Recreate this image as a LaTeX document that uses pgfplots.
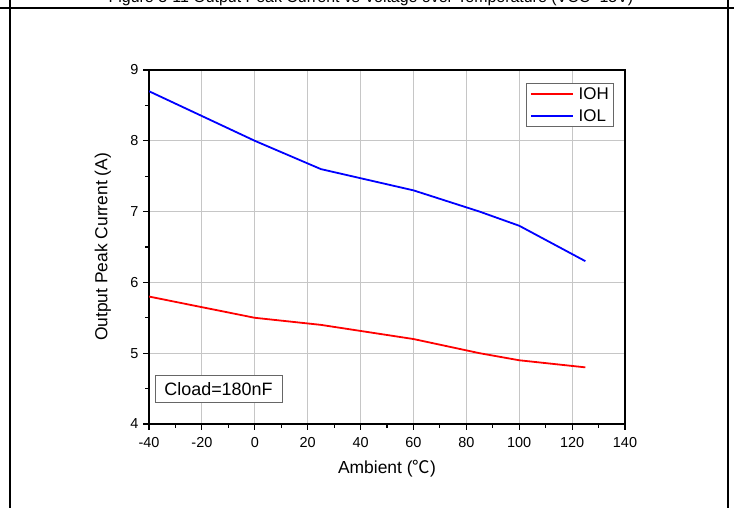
\documentclass[border=0pt]{standalone}
\usepackage{fontspec}
\usepackage{pgfplots}
\pgfplotsset{compat=1.18}
\setmainfont{Liberation Sans}
\newfontfamily\cjk{Noto Sans CJK SC}

% Output peak current vs ambient temperature
\pgfplotstableread{
T    I
-40  5.80
-20  5.65
0    5.50
25   5.40
60   5.20
85   5.00
100  4.90
125  4.80
}\ioh
\pgfplotstableread{
T    I
-40  8.70
0    8.00
25   7.60
60   7.30
85   7.00
100  6.80
125  6.30
}\iol

\begin{document}
\begin{tikzpicture}[x=1bp,y=1bp]
\useasboundingbox (0,0) rectangle (734,508);
% table cell frame around the figure
\draw[line width=2bp] (0,500) -- (734,500);
\draw[line width=2bp] (10,0) -- (10,508);
\draw[line width=2bp] (728,0) -- (728,508);
\node[anchor=base, font=\fontsize{16}{18}\selectfont] at (371,505)
  {Figure 3-11 Output Peak Current vs Voltage over Temperature (VCC=15V)};

\begin{axis}[
  at={(149bp,84bp)}, anchor=south west,
  scale only axis, width=476bp, height=354bp,
  xmin=-40, xmax=140, ymin=4, ymax=9,
  xtick={-40,-20,...,140}, ytick={4,5,...,9},
  minor x tick num=1, minor y tick num=1,
  xtick pos=left, ytick pos=left, tick align=outside,
  major tick length=6bp, minor tick length=4bp,
  every tick/.style={black, line width=1.2bp},
  axis line style={line width=1.8bp},
  grid=major,
  major grid style={gray!45, line width=0.8bp},
  tick label style={font=\fontsize{14.5}{16}\selectfont},
  xticklabel style={yshift=-4bp},
  yticklabel style={xshift=-1bp},
  /pgf/number format/assume math mode=true,
  xlabel={Ambient ({\cjk ℃})},
  ylabel={Output Peak Current (A)},
  label style={font=\fontsize{17.5}{20}\selectfont},
  xlabel style={at={(axis description cs:0.5,-0.125)}, anchor=center},
  ylabel style={at={(axis description cs:-0.097,0.5)}, anchor=center},
  legend style={at={(axis description cs:0.793,0.962)}, anchor=north west,
    draw=gray!80!black, line width=0.8bp,
    font=\fontsize{17}{19}\selectfont,
    inner xsep=3bp, inner ysep=2bp,
    nodes={inner sep=2bp, text depth=0.5bp},
    column sep=3bp, row sep=6bp},
  legend cell align=left,
  legend image code/.code={\draw[#1, line width=1.8bp] (0bp,0bp) -- (42bp,0bp);},
]
\addplot[red, line width=1.8bp] table[x=T, y=I] {\ioh};
\addlegendentry{IOH}
\addplot[blue, line width=1.8bp] table[x=T, y=I] {\iol};
\addlegendentry{IOL}
\node[draw=gray!80!black, line width=0.8bp, fill=white,
  minimum width=127bp, minimum height=27bp, inner sep=0pt,
  font=\fontsize{18}{20}\selectfont]
  at (axis description cs:0.146,0.1) {Cload=180nF};
\end{axis}
\end{tikzpicture}
\end{document}
